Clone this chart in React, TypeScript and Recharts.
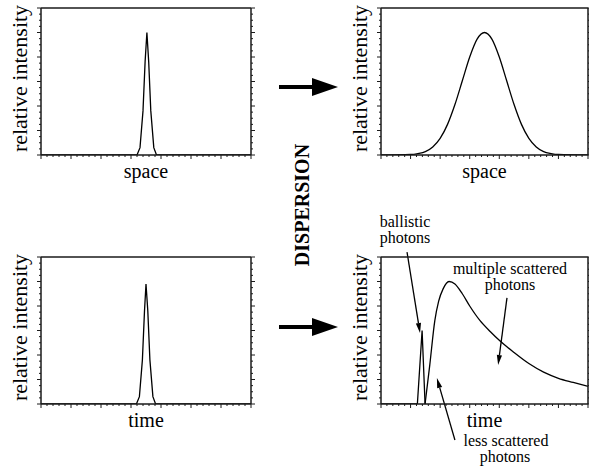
import React from "react";
import { LineChart, Line, XAxis, YAxis, ReferenceLine } from "recharts";

// x is an arbitrary position / time unit (0..70), y is relative intensity (0..6)
const spacePulseX = [0, 32, 33, 34, 34.7, 35.3, 35.9, 36.6, 37.6, 38.5, 70];
const spacePulseY = [0, 0, 0.3, 1.8, 3.8, 5.0, 3.8, 1.8, 0.3, 0, 0];

const spaceBroadX = [0, 10, 12.5, 15, 17.5, 20, 22.5, 25, 27.5, 30, 32.5, 35, 37.5, 40, 42.5, 45, 47.5, 50, 52.5, 55, 57.5, 60, 70];
const spaceBroadY = [0, 0.02, 0.06, 0.14, 0.33, 0.68, 1.25, 2.06, 3.03, 4.0, 4.73, 5.0, 4.73, 4.0, 3.03, 2.06, 1.25, 0.68, 0.33, 0.14, 0.06, 0.02, 0];

const timePulseX = [0, 31.8, 32.8, 33.8, 34.5, 35.0, 35.6, 36.3, 37.3, 38.2, 70];
const timePulseY = [0, 0, 0.3, 1.8, 3.8, 4.9, 3.8, 1.8, 0.3, 0, 0];

const ballisticX = [0, 12.3, 13.9, 14.9];
const ballisticY = [0, 0, 3.0, 0];

const scatteredX = [14.9, 16.5, 18.2, 19.5, 21, 23, 25, 27.5, 30, 33.5, 37, 40, 45, 50, 55, 60, 65, 70];
const scatteredY = [0, 1.6, 3.4, 4.2, 4.7, 5.0, 4.9, 4.5, 4.0, 3.4, 2.95, 2.6, 2.1, 1.65, 1.3, 1.05, 0.88, 0.72];

// annotation arrows, in data units of the lower right panel
const arrowBallistic = [{ x: 8.8, y: 6.2 }, { x: 13.2, y: 2.9 }];
const arrowMultiple = [{ x: 42.6, y: 4.33 }, { x: 39.6, y: 1.59 }];
const arrowLess = [{ x: 25.0, y: -1.47 }, { x: 18.9, y: 1.06 }];

const X_DOMAIN = [0, 70];
const Y_DOMAIN = [0, 6];
const xTicks = Array.from({ length: 36 }, (_, i) => i * 2);
const yTicks = Array.from({ length: 25 }, (_, i) => i * 0.25);

const FONT = "'Liberation Serif', 'Times New Roman', serif";
const INK = "#1a1a1a";

const zip = (xs: number[], ys: number[]) => xs.map((x, i) => ({ x, y: ys[i] }));

const makeTick = (side: string, major: number) => (props: any) => {
  const { x, y, payload } = props;
  const r = payload.value / major;
  const isMajor = Math.abs(r - Math.round(r)) < 1e-6;
  const len = isMajor ? 4 : 2;
  let x2 = x;
  let y2 = y;
  if (side === "bottom") y2 = y + len;
  if (side === "top") y2 = y - len;
  if (side === "left") x2 = x - len;
  if (side === "right") x2 = x + len;
  return <line x1={x} y1={y} x2={x2} y2={y2} stroke={INK} strokeWidth={1} />;
};

const XTitle = (props: any) => {
  const { viewBox, value } = props;
  return (
    <text x={viewBox.x + viewBox.width / 2} y={viewBox.y + 23} textAnchor="middle" fontFamily={FONT} fontSize={20} fill="#000">
      {value}
    </text>
  );
};

const YTitle = (props: any) => {
  const { viewBox, value } = props;
  const cx = viewBox.x + viewBox.width - 14;
  const cy = viewBox.y + viewBox.height / 2 - 3;
  return (
    <text x={cx} y={cy} transform={`rotate(-90, ${cx}, ${cy})`} textAnchor="middle" fontFamily={FONT} fontSize={22} fill="#000">
      {value}
    </text>
  );
};

const ArrowShape = (p: any) => {
  const { x1, y1, x2, y2 } = p;
  const ang = Math.atan2(y2 - y1, x2 - x1);
  const L = 10;
  const W = 2.6;
  const bx = x2 - L * Math.cos(ang);
  const by = y2 - L * Math.sin(ang);
  const px = -Math.sin(ang) * W;
  const py = Math.cos(ang) * W;
  return (
    <g>
      <line x1={x1} y1={y1} x2={bx} y2={by} stroke="#000" strokeWidth={1.3} />
      <polygon points={`${x2},${y2} ${bx + px},${by + py} ${bx - px},${by - py}`} fill="#000" />
    </g>
  );
};

interface PanelProps {
  left: number;
  top: number;
  width: number;
  plotRight: number;
  title: string;
  series: { data: { x: number; y: number }[]; curve: "linear" | "monotone" }[];
  arrows?: { x: number; y: number }[][];
}

// plot box: x 41..plotRight, y 8..155 inside a 200px tall chart; each axis takes 1px
function Panel({ left, top, width, plotRight, title, series, arrows = [] }: PanelProps) {
  const axisLine = { stroke: INK, strokeWidth: 1.5 };
  return (
    <div style={{ position: "absolute", left, top }}>
      <LineChart width={width} height={200} margin={{ top: 7, left: 40, right: width - plotRight - 1, bottom: 44 }}>
        <XAxis
          xAxisId="b"
          type="number"
          dataKey="x"
          domain={X_DOMAIN}
          ticks={xTicks}
          interval={0}
          height={1}
          tickSize={0}
          tickMargin={0}
          tick={makeTick("bottom", 10)}
          axisLine={axisLine}
          label={{ value: title, content: XTitle }}
        />
        <XAxis xAxisId="t" orientation="top" type="number" dataKey="x" domain={X_DOMAIN} ticks={xTicks} interval={0} height={1} tickSize={0} tickMargin={0} tick={makeTick("top", 10)} axisLine={axisLine} />
        <YAxis
          yAxisId="l"
          type="number"
          domain={Y_DOMAIN}
          ticks={yTicks}
          interval={0}
          width={1}
          tickSize={0}
          tickMargin={0}
          tick={makeTick("left", 1)}
          axisLine={axisLine}
          allowDataOverflow
          label={{ value: "relative intensity", content: YTitle }}
        />
        <YAxis yAxisId="r" orientation="right" type="number" domain={Y_DOMAIN} ticks={yTicks} interval={0} width={1} tickSize={0} tickMargin={0} tick={makeTick("right", 1)} axisLine={axisLine} allowDataOverflow />
        {series.map((s, i) => (
          <Line
            key={i}
            xAxisId="b"
            yAxisId="l"
            data={s.data}
            dataKey="y"
            type={s.curve}
            stroke="#000"
            strokeWidth={1.3}
            dot={false}
            isAnimationActive={false}
          />
        ))}
        {arrows.map((seg, i) => (
          <ReferenceLine key={`a${i}`} xAxisId="b" yAxisId="l" segment={seg} ifOverflow="visible" shape={ArrowShape} />
        ))}
      </LineChart>
    </div>
  );
}

export default function App() {
  return (
    <div style={{ position: "absolute", left: 0, top: 0, width: 589, height: 470, background: "#fff", overflow: "hidden" }}>
      <Panel left={0} top={0} width={270} plotRight={251} title="space" series={[{ data: zip(spacePulseX, spacePulseY), curve: "linear" }]} />
      <Panel left={340} top={0} width={249} plotRight={248} title="space" series={[{ data: zip(spaceBroadX, spaceBroadY), curve: "monotone" }]} />
      <Panel left={0} top={249} width={270} plotRight={251} title="time" series={[{ data: zip(timePulseX, timePulseY), curve: "linear" }]} />
      <Panel
        left={340}
        top={249}
        width={249}
        plotRight={248}
        title="time"
        series={[
          { data: zip(ballisticX, ballisticY), curve: "linear" },
          { data: zip(scatteredX, scatteredY), curve: "monotone" },
        ]}
        arrows={[arrowBallistic, arrowMultiple, arrowLess]}
      />
      <svg width={589} height={470} style={{ position: "absolute", left: 0, top: 0, pointerEvents: "none" }}>
        <polygon points="279,85 312,85 312,78 338,87 312,96 312,89 279,89" fill="#000" />
        <polygon points="279,325 312,325 312,318 338,327 312,336 312,329 279,329" fill="#000" />
        <text x={309} y={205} transform="rotate(-90, 309, 205)" textAnchor="middle" fontFamily={FONT} fontSize={20} fontWeight="bold" fill="#000">
          DISPERSION
        </text>
        <g fontFamily={FONT} fontSize={16} fill="#000" textAnchor="middle">
          <text x={405} y={227}>ballistic</text>
          <text x={405} y={243}>photons</text>
          <text x={510} y={274}>multiple scattered</text>
          <text x={510} y={290}>photons</text>
          <text x={506} y={446}>less scattered</text>
          <text x={505} y={462}>photons</text>
        </g>
      </svg>
    </div>
  );
}
